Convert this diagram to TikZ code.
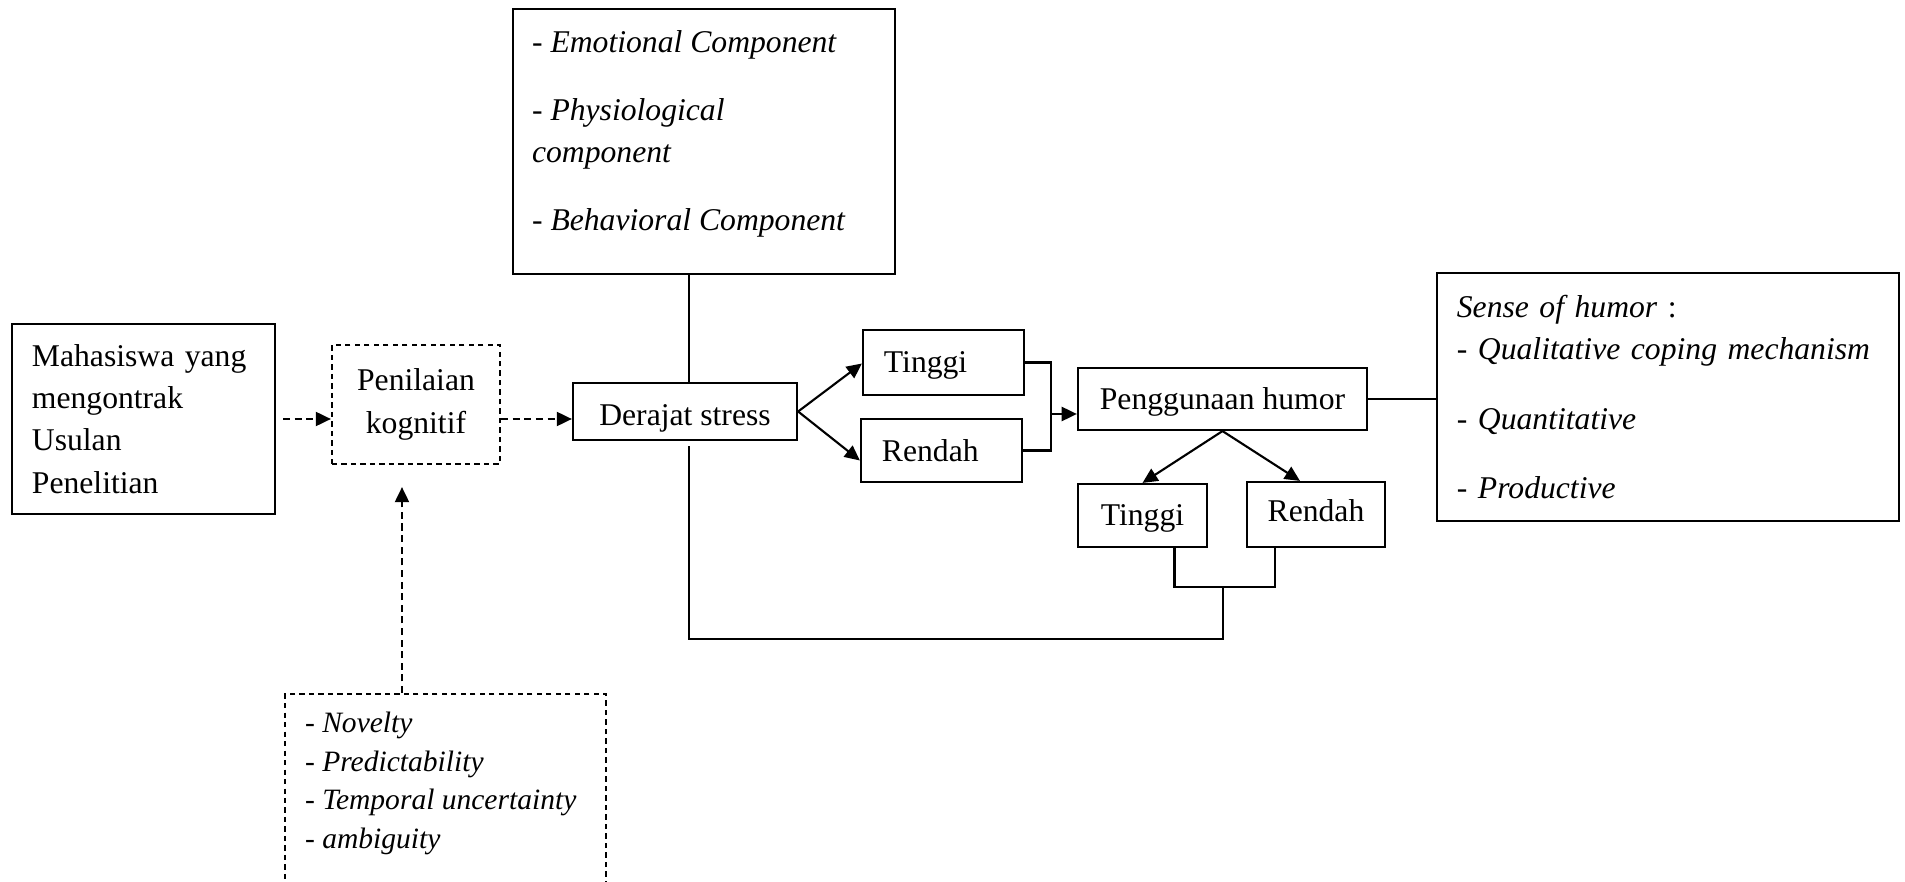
\documentclass[tikz,border=0pt]{standalone}
\usepackage{fontspec}
\setmainfont{Liberation Serif}
\usetikzlibrary{arrows.meta}
\tikzstyle{box} = [rectangle, draw=black, line width=0.6pt, inner sep=0pt, font=\fontsize{9}{12}\selectfont]
\tikzstyle{dashbox} = [box, dash pattern=on 1.5pt off 1.2pt]
\tikzstyle{arrow} = [line width=0.6pt,-{Triangle[length=4.3pt,width=4pt]}]
\tikzstyle{dasharrow} = [arrow, dash pattern=on 2pt off 1.3pt]
\tikzstyle{line} = [line width=0.6pt]

\begin{document}
\begin{tikzpicture}[x=0.01cm, y=-0.01cm]
    \useasboundingbox (0,0) rectangle (1905,882);
    \node (comp) [box, anchor=north west, inner xsep=0.19cm] at (512,8) {\parbox[c][2.65cm][t]{3.44cm}{\vspace*{0.21cm}- \textit{Emotional Component}\\[0.26cm] - \textit{Physiological}\\ \textit{component}\\[0.26cm] - \textit{Behavioral Component}}};
    \node (mhs) [box, minimum width=2.63cm, minimum height=1.9cm, text width=2.23cm, align=left] at (143.5,419) {Mahasiswa yang\\ mengontrak\\ Usulan\\ Penelitian};
    \node (nilai) [dashbox, minimum width=1.68cm, minimum height=1.19cm, align=center] at (416,404.5) {Penilaian\\ kognitif};
    \node (stres) [box, minimum width=2.24cm, minimum height=0.57cm, text height=8pt, text depth=0pt] at (685,411.5) {Derajat stress};
    \node (tinggiA) [box, minimum width=1.61cm, minimum height=0.65cm, text width=1.19cm, align=left, text depth=0pt] at (943.5,362.5) {Tinggi};
    \node (rendahA) [box, minimum width=1.61cm, minimum height=0.63cm, text width=1.19cm, align=left] at (941.5,450.5) {Rendah};
    \node (humor) [box, minimum width=2.89cm, minimum height=0.62cm, text depth=0pt] at (1222.5,399) {Penggunaan humor};
    \node (tinggiB) [box, minimum width=1.29cm, minimum height=0.63cm, text depth=0pt] at (1142.5,515.5) {Tinggi};
    \node (rendahB) [box, minimum width=1.38cm, minimum height=0.65cm, text depth=2pt] at (1316,514.5) {Rendah};
    \node (sense) [box, minimum width=4.62cm, minimum height=2.48cm, text width=4.22cm, align=left] at (1668,397) {\textit{Sense of humor} :\\ - \textit{Qualitative coping mechanism}\\[0.27cm] - \textit{Quantitative}\\[0.27cm] - \textit{Productive}};
    \node (novel) [dashbox, anchor=north west, inner xsep=0.2cm, font=\fontsize{8.4}{11}\selectfont] at (284,693) {\parbox[c][2.6cm][t]{2.81cm}{\vspace*{0.18cm}- \textit{Novelty}\\ - \textit{Predictability}\\ - \textit{Temporal uncertainty}\\ - \textit{ambiguity}}};

    \draw [line] ([xshift=0.04cm]stres.north |- comp.south) -- ([xshift=0.04cm]stres.north);
    \draw [dasharrow] ([xshift=0.07cm]mhs.east) -- (mhs.east -| nilai.west);
    \draw [dasharrow] (nilai.east |- mhs.east) -- (stres.west |- mhs.east);
    \draw [dasharrow] ([xshift=-0.14cm]nilai.south |- novel.north) -- ([xshift=-0.14cm, yshift=-0.22cm]nilai.south);
    \draw [arrow] (stres.east) -- ([yshift=-0.01cm]tinggiA.west);
    \draw [arrow] (stres.east) -- ([yshift=-0.1cm]rendahA.west);
    \coordinate (merge) at (1051,414);
    \draw [line] (rendahA.east) -| (merge);
    \draw [arrow] (tinggiA.east) -| (merge) -- (merge -| humor.west);
    \draw [arrow] (humor.south) -- (tinggiB.north);
    \draw [arrow] (humor.south) -- ([xshift=-0.16cm]rendahB.north);
    \draw [line] (humor.east) -- (humor.east -| sense.west);
    \coordinate (join) at (1223,587);
    \coordinate (loopend) at (1223,639);
    \draw [line] ([xshift=0.32cm]tinggiB.south) |- (join) -| ([xshift=-0.41cm]rendahB.south);
    \draw [line] (join) -- (loopend) -| ([xshift=0.04cm, yshift=-0.05cm]stres.south);
\end{tikzpicture}
\end{document}
